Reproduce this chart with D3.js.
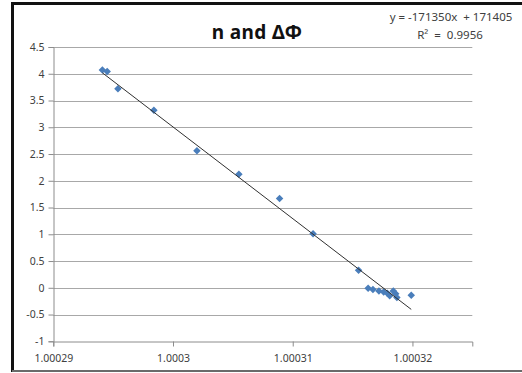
<!DOCTYPE html>
<html lang="en">
  <head>
    <meta charset="UTF-8" />
    <script src="https://d3js.org/d3.v7.min.js"></script>
    <title>n and ΔΦ</title>
    <style>
      body { margin: 0; background: #fff; }
      text { font-family: "Noto Sans", "DejaVu Sans", sans-serif; }
    </style>
  </head>
  <body>
    <div id="viz"></div>
    <script>
      // refractive index n (x) and phase shift ΔΦ (y)
      const nValues = [
        1.0002941, 1.0002945, 1.0002954, 1.0002984, 1.000302, 1.0003055,
        1.0003089, 1.0003117, 1.0003155, 1.0003163, 1.0003167, 1.0003172,
        1.0003176, 1.0003179, 1.0003181, 1.0003184, 1.0003186, 1.0003187,
        1.0003199,
      ];
      const dPhi = [
        4.07, 4.04, 3.72, 3.32, 2.56, 2.12,
        1.67, 1.01, 0.33, -0.01, -0.03, -0.06,
        -0.08, -0.1, -0.15, -0.06, -0.11, -0.18,
        -0.14,
      ];
      const xTicks = [1.00029, 1.0003, 1.00031, 1.00032];
      const xTickLabels = ["1.00029", "1.0003", "1.00031", "1.00032"];
      const yTicks = [-1, -0.5, 0, 0.5, 1, 1.5, 2, 2.5, 3, 3.5, 4, 4.5];
      // linear trendline as labelled on the chart
      const trendSlope = -171350;
      const equationText = "y = -171350x  + 171405";
      const r2Text = "R² = 0.9956";

      const W = 522, H = 373;
      const svg = d3.select("#viz").append("svg")
        .attr("width", W).attr("height", H);

      // outer frame
      svg.append("line").attr("x1", 12).attr("x2", W).attr("y1", 3.5).attr("y2", 3.5)
        .attr("stroke", "#111").attr("stroke-width", 3);
      svg.append("line").attr("x1", 12.5).attr("x2", 12.5).attr("y1", 2).attr("y2", 372)
        .attr("stroke", "#111").attr("stroke-width", 3);
      svg.append("line").attr("x1", 12).attr("x2", W).attr("y1", 371).attr("y2", 371)
        .attr("stroke", "#6a6a6a").attr("stroke-width", 2);

      const x = d3.scaleLinear().domain([1.00029, 1.000325]).range([53.3, 472.3]);
      const y = d3.scaleLinear().domain([-1, 4.5]).range([341.3, 47]);

      // gridlines
      svg.append("g")
        .selectAll("line")
        .data(yTicks.filter((d) => d > -1))
        .enter()
        .append("line")
        .attr("x1", x.range()[0]).attr("x2", x.range()[1])
        .attr("y1", (d) => Math.round(y(d)) + 0.5)
        .attr("y2", (d) => Math.round(y(d)) + 0.5)
        .attr("stroke", "#a8a8a8").attr("stroke-width", 1);

      // y axis
      const yAxis = svg.append("g")
        .attr("transform", `translate(${Math.round(x.range()[0]) + 0.5},0)`)
        .call(d3.axisLeft(y).tickValues(yTicks).tickSize(5).tickPadding(8)
          .tickFormat((d) => d3.format("")(d).replace("−", "-")));

      // x axis
      const xAxis = svg.append("g")
        .attr("transform", `translate(0,${Math.round(y(-1)) + 0.5})`)
        .call(d3.axisBottom(x).tickValues(xTicks).tickSize(5).tickPadding(8)
          .tickFormat((d, i) => xTickLabels[i]));

      [yAxis, xAxis].forEach((g) => {
        g.select(".domain").attr("stroke", "#8c8c8c");
        g.selectAll(".tick line").attr("stroke", "#8c8c8c");
        g.selectAll(".tick text")
          .attr("fill", "#404040")
          .style("font-size", "10.5px");
      });
      yAxis.selectAll(".tick text").attr("x", -9);

      // trendline through the mean of the data, over the data range
      const pts = nValues.map((v, i) => ({ n: v, p: dPhi[i] }));
      const mx = d3.mean(pts, (d) => d.n - 1);
      const my = d3.mean(pts, (d) => d.p);
      const fit = (n) => my + trendSlope * (n - 1 - mx);
      const [xmin, xmax] = d3.extent(nValues);

      // markers
      svg.append("g")
        .selectAll("path")
        .data(pts)
        .enter()
        .append("path")
        .attr("d", d3.symbol(d3.symbolDiamond2, 36))
        .attr("transform", (d) => `translate(${x(d.n)},${y(d.p)})`)
        .attr("fill", "#4a7ebb");

      svg.append("line")
        .attr("x1", x(xmin)).attr("y1", y(fit(xmin)))
        .attr("x2", x(xmax)).attr("y2", y(fit(xmax)))
        .attr("stroke", "#303030").attr("stroke-width", 1);

      // title and trendline label
      svg.append("text")
        .attr("x", 257).attr("y", 39)
        .attr("text-anchor", "middle")
        .style("font-size", "19px").style("font-weight", "bold")
        .style("letter-spacing", "0.4px")
        .attr("fill", "#111")
        .text("n and ΔΦ");

      svg.append("text")
        .attr("x", 451).attr("y", 21)
        .attr("text-anchor", "middle")
        .style("font-size", "11.5px").attr("fill", "#404040")
        .style("white-space", "pre")
        .attr("xml:space", "preserve")
        .text(equationText);

      svg.append("text")
        .attr("x", 450).attr("y", 39)
        .attr("text-anchor", "middle")
        .style("font-size", "11.5px").attr("fill", "#404040")
        .style("white-space", "pre")
        .attr("xml:space", "preserve")
        .text(r2Text.replace(" = ", "  =  "));
    </script>
  </body>
</html>
